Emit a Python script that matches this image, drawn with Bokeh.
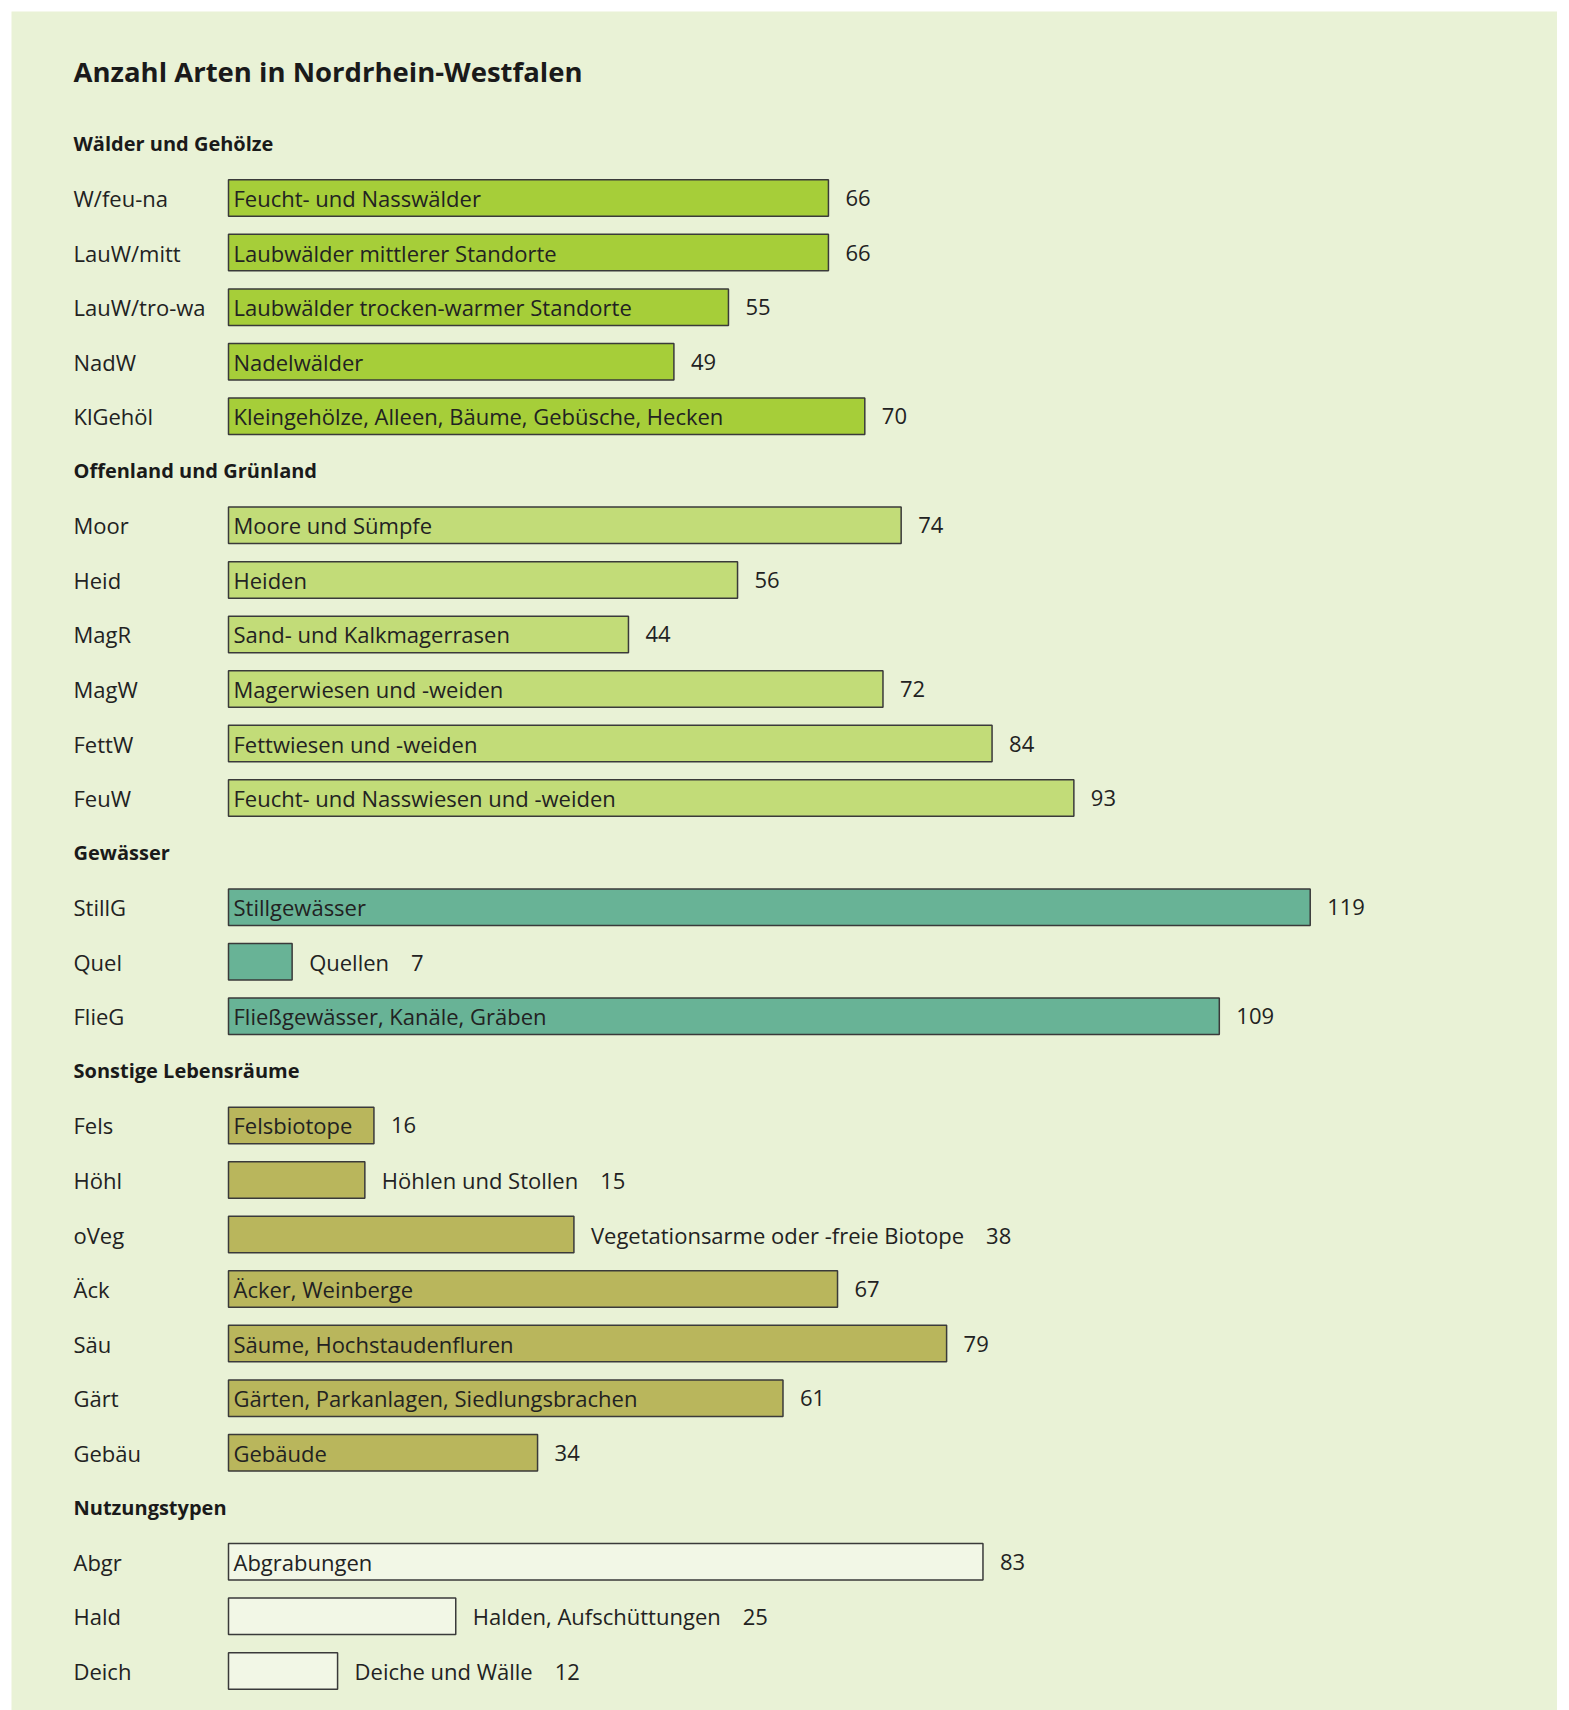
from bokeh.plotting import figure
from bokeh.models import Range1d
from bokeh.core.properties import value
from bokeh.embed import file_html
from bokeh.resources import INLINE

title = "Anzahl Arten in Nordrhein-Westfalen"

sections = ["Wälder und Gehölze", "Offenland und Grünland", "Gewässer",
            "Sonstige Lebensräume", "Nutzungstypen"]
section_colors = ["#a6ce39", "#c2dc78", "#68b396", "#b9b65c", "#f2f7e6"]

codes = [
    ["W/feu-na", "LauW/mitt", "LauW/tro-wa", "NadW", "KlGehöl"],
    ["Moor", "Heid", "MagR", "MagW", "FettW", "FeuW"],
    ["StillG", "Quel", "FlieG"],
    ["Fels", "Höhl", "oVeg", "Äck", "Säu", "Gärt", "Gebäu"],
    ["Abgr", "Hald", "Deich"],
]
names = [
    ["Feucht- und Nasswälder", "Laubwälder mittlerer Standorte",
     "Laubwälder trocken-warmer Standorte", "Nadelwälder",
     "Kleingehölze, Alleen, Bäume, Gebüsche, Hecken"],
    ["Moore und Sümpfe", "Heiden", "Sand- und Kalkmagerrasen",
     "Magerwiesen und -weiden", "Fettwiesen und -weiden",
     "Feucht- und Nasswiesen und -weiden"],
    ["Stillgewässer", "Quellen", "Fließgewässer, Kanäle, Gräben"],
    ["Felsbiotope", "Höhlen und Stollen", "Vegetationsarme oder -freie Biotope",
     "Äcker, Weinberge", "Säume, Hochstaudenfluren",
     "Gärten, Parkanlagen, Siedlungsbrachen", "Gebäude"],
    ["Abgrabungen", "Halden, Aufschüttungen", "Deiche und Wälle"],
]
values = [
    [66, 66, 55, 49, 70],
    [74, 56, 44, 72, 84, 93],
    [119, 7, 109],
    [16, 15, 38, 67, 79, 61, 34],
    [83, 25, 12],
]

# ---- layout constants (pixels, page coordinates) ----
W, H = 1557, 1710
BL, BT = 11, 11
FW, FH = W - BL, H - BT
PX_PER_UNIT = 9.09
BAR_X0 = 228 - BL          # bar start within frame
ROW0_Y = 143 - BT          # first slot center within frame
ROW_STEP = 54.55
LABEL_X = 73 - BL
CHAR_W = 11.4

xs = -BAR_X0 / PX_PER_UNIT
xe = xs + FW / PX_PER_UNIT
ytop = ROW0_Y / ROW_STEP
ybot = -(FH - ROW0_Y) / ROW_STEP

bar_y, bar_v, bar_c = [], [], []
in_x, in_y, in_t = [], [], []
val_x, val_y, val_t = [], [], []
out_x, out_y, out_t = [], [], []
code_y, code_t = [], []
sec_y, sec_t = [], []

slot = 0
for s, sec in enumerate(sections):
    sec_y.append(-slot)
    sec_t.append(sec)
    slot += 1
    for c, n, v in zip(codes[s], names[s], values[s]):
        y = -slot
        bar_y.append(y); bar_v.append(v); bar_c.append(section_colors[s])
        code_y.append(y); code_t.append(c)
        if len(n) * CHAR_W + 12 < v * PX_PER_UNIT:
            in_x.append(0); in_y.append(y); in_t.append(n)
            val_x.append(v); val_y.append(y); val_t.append(str(v))
        else:
            out_x.append(v); out_y.append(y); out_t.append(n + "\u2003" + str(v))
        slot += 1

p = figure(width=W, height=H, output_backend="svg", toolbar_location=None,
           x_range=Range1d(xs, xe), y_range=Range1d(ybot, ytop),
           min_border_left=BL, min_border_top=BT, min_border_right=0,
           min_border_bottom=0)
p.axis.visible = False
p.grid.visible = False
p.outline_line_color = None
p.background_fill_color = "#e9f2d6"
p.border_fill_color = "#ffffff"

FONT = value("Open Sans")
TXT = "#222222"
FS = "22px"

p.hbar(y=bar_y, left=0, right=bar_v, height=36.5 / ROW_STEP,
       fill_color=bar_c, line_color="#3a3a3a", line_width=1.5)

p.text(x=in_x, y=in_y, text=in_t, x_offset=5, text_baseline="middle",
       text_font=FONT, text_font_size=FS, text_color=TXT)
p.text(x=val_x, y=val_y, text=val_t, x_offset=17, text_baseline="middle",
       text_font=FONT, text_font_size=FS, text_color=TXT)
p.text(x=out_x, y=out_y, text=out_t, x_offset=17, text_baseline="middle",
       text_font=FONT, text_font_size=FS, text_color=TXT)
p.text(x=[xs + LABEL_X / PX_PER_UNIT] * len(code_t), y=code_y, text=code_t,
       text_baseline="middle", text_font=FONT, text_font_size=FS,
       text_color=TXT)
p.text(x=[xs + LABEL_X / PX_PER_UNIT] * len(sec_t), y=sec_y, text=sec_t,
       text_baseline="middle", text_font=FONT, text_font_size="20px",
       text_font_style="bold", text_color="#1a1a1a")
p.text(x=[xs + LABEL_X / PX_PER_UNIT], y=[(143 - 71) / ROW_STEP], text=[title],
       text_baseline="middle", text_font=FONT, text_font_size="27.5px",
       text_font_style="bold", text_color="#1a1a1a")

open("out.html", "w").write(file_html(p, INLINE))
